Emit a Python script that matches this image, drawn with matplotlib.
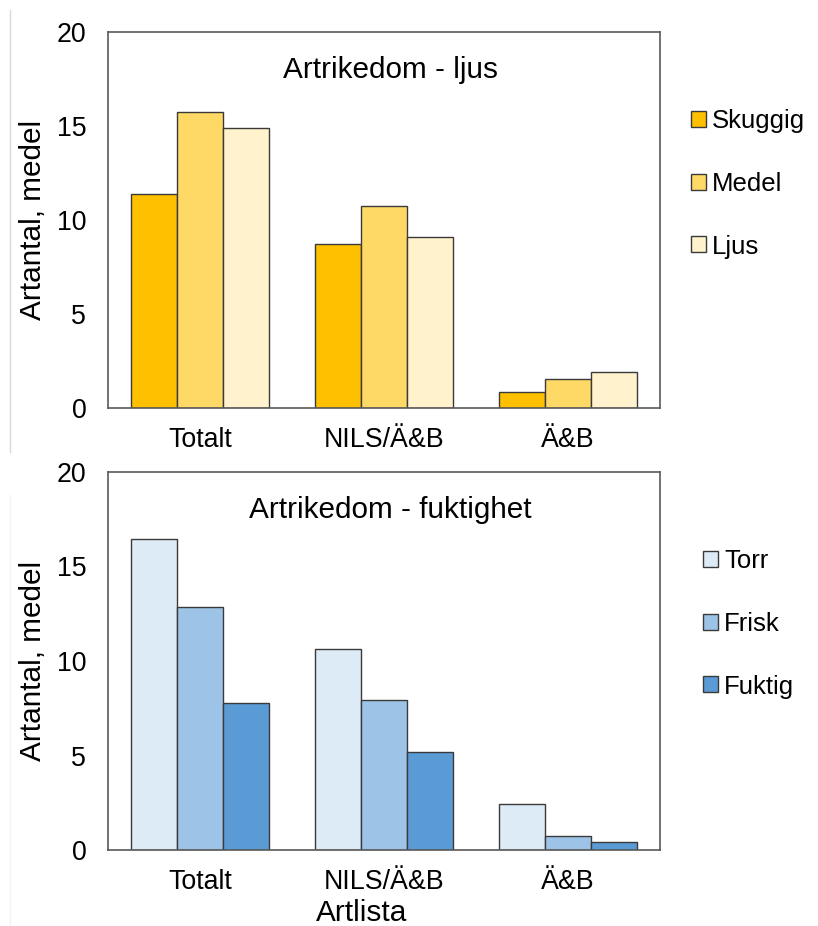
import matplotlib
matplotlib.use("Agg")
import matplotlib.pyplot as plt
from matplotlib.lines import Line2D
import numpy as np

plt.rcParams['font.family'] = ['Liberation Sans', 'DejaVu Sans']

categories = ["Totalt", "NILS/Ä&B", "Ä&B"]

# Species richness by light conditions
light_labels = ["Skuggig", "Medel", "Ljus"]
skuggig = [11.4, 8.7, 0.85]
medel = [15.75, 10.75, 1.55]
ljus = [14.9, 9.1, 1.93]
light_colors = ["#FFC000", "#FFD966", "#FFF2CC"]

# Species richness by moisture
moist_labels = ["Torr", "Frisk", "Fuktig"]
torr = [16.45, 10.62, 2.42]
frisk = [12.86, 7.94, 0.74]
fuktig = [7.78, 5.17, 0.44]
moist_colors = ["#DDEBF7", "#9DC3E6", "#5B9BD5"]

yticks = [0, 5, 10, 15, 20]

W, H = 818, 926
fig = plt.figure(figsize=(W / 100, H / 100), dpi=100)


def px_axes(left, top, right, bottom):
    return fig.add_axes([left / W, 1 - bottom / H, (right - left) / W, (bottom - top) / H])


def draw_panel(ax, series, labels, colors, title, leg_anchor):
    x = np.arange(len(categories))
    width = 0.25
    for i, (vals, lab, col) in enumerate(zip(series, labels, colors)):
        ax.bar(x + (i - 1) * width, vals, width, color=col, edgecolor="#3a3a3a",
               linewidth=1.0, label=lab, zorder=2)
    ax.set_xlim(-0.5, len(categories) - 0.5)
    ax.set_ylim(0, 20)
    ax.set_yticks(yticks)
    ax.set_xticks(x)
    ax.set_xticklabels(categories)
    ax.tick_params(axis="both", length=0, labelsize=19.3, colors="#000000")
    ax.tick_params(axis="y", pad=16)
    ax.tick_params(axis="x", pad=14)
    for s in ax.spines.values():
        s.set_color("#595959")
        s.set_linewidth(1.2)
    ax.set_ylabel("Artantal, medel", fontsize=21.4, labelpad=7)
    ax.text(0.511, 0.9, title, transform=ax.transAxes, ha="center", va="center",
            fontsize=21.4)
    leg = ax.legend(loc="center left", bbox_to_anchor=leg_anchor,
                    bbox_transform=fig.transFigure, frameon=False,
                    fontsize=18.5, handlelength=0.58, handleheight=0.58,
                    handletextpad=0.25, labelspacing=1.5, borderpad=0,
                    borderaxespad=0)
    for p in leg.get_patches():
        p.set_edgecolor("#3a3a3a")
        p.set_linewidth(1.0)
    return ax


ax1 = px_axes(108.5, 32, 660, 408)
draw_panel(ax1, [skuggig, medel, ljus], light_labels, light_colors,
           "Artrikedom - ljus", (691 / W, 1 - 184 / H))

ax2 = px_axes(108.5, 472, 660, 850)
draw_panel(ax2, [torr, frisk, fuktig], moist_labels, moist_colors,
           "Artrikedom - fuktighet", (703 / W, 1 - 624 / H))

fig.text(362 / W, 1 - 921 / H, "Artlista", ha="center", va="baseline", fontsize=21.4)

# thin separator lines along the left edge
fig.add_artist(Line2D([9.5 / W, 9.5 / W], [1 - 10 / H, 1 - 452 / H],
                      transform=fig.transFigure, color="#d9d9d9", linewidth=1))
fig.add_artist(Line2D([9.5 / W, 9.5 / W], [1 - 495 / H, 0],
                      transform=fig.transFigure, color="#f2f2f2", linewidth=1))

fig.savefig("out.png", dpi=100)
